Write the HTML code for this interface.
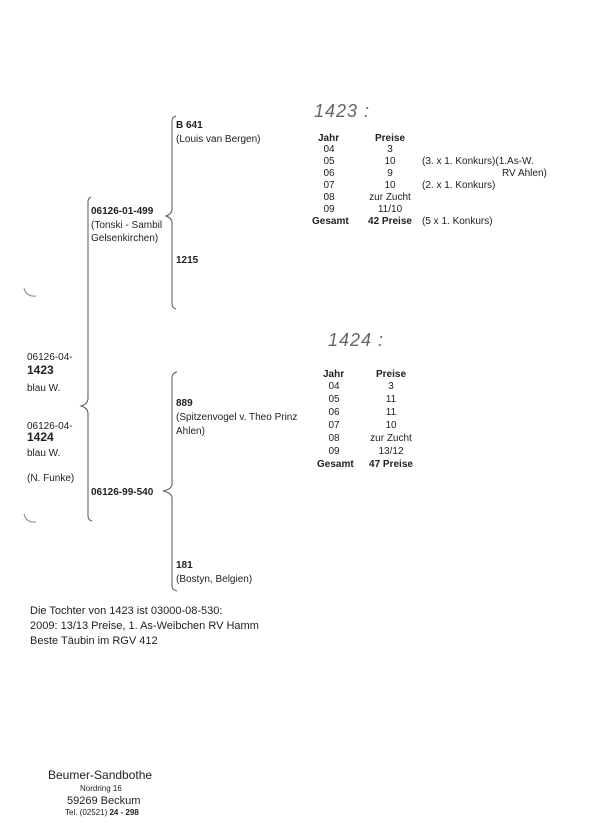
<!DOCTYPE html>
<html><head><meta charset="utf-8"><style>
html,body{margin:0;padding:0;background:#fff;width:600px;height:825px;overflow:hidden}
svg{display:block}
text{font-family:"Liberation Sans",Arial,sans-serif;fill:#222;font-size:10px}
.b{font-weight:bold}
.h{font-family:"Liberation Sans",sans-serif;font-style:italic;font-size:18px;fill:#666;font-weight:normal;letter-spacing:1px}
</style></head><body>
<svg width="600" height="825" viewBox="0 0 600 825">
<g fill="none" stroke="#555" stroke-width="1">
<path d="M91,197 Q88,198 88,202 L88,398 Q88,404 81,406 Q88,408 88,414 L88,516 Q88,520 92,521"/>
<path d="M176,116 Q172,117 172,121 L172,209 Q172,214 166,216 Q172,218 172,223 L172,304 Q172,308 176,309"/>
<path d="M177,372 Q172,373 172,378 L172,484 Q172,489 163,491 Q172,493 172,498 L172,586 Q172,590 177,591"/>
<path d="M24,288 Q26,297 36,296" stroke="#888"/>
<path d="M24,514 Q26,523 36,522" stroke="#888"/>
</g>
<text x="176" y="128" class="b">B 641</text>
<text x="176" y="142">(Louis van Bergen)</text>
<text x="91" y="214" class="b">06126-01-499</text>
<text x="91" y="228">(Tonski - Sambil</text>
<text x="91" y="241">Gelsenkirchen)</text>
<text x="176" y="263" class="b">1215</text>
<text x="27" y="360">06126-04-</text>
<text x="27" y="374" class="b" style="font-size:12px">1423</text>
<text x="27" y="391">blau W.</text>
<text x="27" y="429">06126-04-</text>
<text x="27" y="441" class="b" style="font-size:12px">1424</text>
<text x="27" y="456">blau W.</text>
<text x="27" y="481">(N. Funke)</text>
<text x="91" y="495" class="b">06126-99-540</text>
<text x="176" y="406" class="b">889</text>
<text x="176" y="420">(Spitzenvogel v. Theo Prinz</text>
<text x="176" y="434">Ahlen)</text>
<text x="176" y="568" class="b">181</text>
<text x="176" y="582">(Bostyn, Belgien)</text>

<text x="314" y="117" class="h">1423 :</text>
<g>
<text x="318" y="141" class="b">Jahr</text><text x="390" y="141" class="b" text-anchor="middle">Preise</text>
<text x="329" y="152" text-anchor="middle">04</text><text x="390" y="152" text-anchor="middle">3</text>
<text x="329" y="164" text-anchor="middle">05</text><text x="390" y="164" text-anchor="middle">10</text><text x="422" y="164">(3. x 1. Konkurs)(1.As-W.</text>
<text x="329" y="176" text-anchor="middle">06</text><text x="390" y="176" text-anchor="middle">9</text><text x="502" y="176">RV Ahlen)</text>
<text x="329" y="188" text-anchor="middle">07</text><text x="390" y="188" text-anchor="middle">10</text><text x="422" y="188">(2. x 1. Konkurs)</text>
<text x="329" y="200" text-anchor="middle">08</text><text x="390" y="200" text-anchor="middle">zur Zucht</text>
<text x="329" y="212" text-anchor="middle">09</text><text x="390" y="212" text-anchor="middle">11/10</text>
<text x="312" y="224" class="b">Gesamt</text><text x="390" y="224" class="b" text-anchor="middle">42 Preise</text><text x="422" y="224">(5 x 1. Konkurs)</text>
</g>

<text x="328" y="346" class="h">1424 :</text>
<g>
<text x="323" y="377" class="b">Jahr</text><text x="391" y="377" class="b" text-anchor="middle">Preise</text>
<text x="334" y="389" text-anchor="middle">04</text><text x="391" y="389" text-anchor="middle">3</text>
<text x="334" y="402" text-anchor="middle">05</text><text x="391" y="402" text-anchor="middle">11</text>
<text x="334" y="415" text-anchor="middle">06</text><text x="391" y="415" text-anchor="middle">11</text>
<text x="334" y="428" text-anchor="middle">07</text><text x="391" y="428" text-anchor="middle">10</text>
<text x="334" y="441" text-anchor="middle">08</text><text x="391" y="441" text-anchor="middle">zur Zucht</text>
<text x="334" y="454" text-anchor="middle">09</text><text x="391" y="454" text-anchor="middle">13/12</text>
<text x="317" y="467" class="b">Gesamt</text><text x="391" y="467" class="b" text-anchor="middle">47 Preise</text>
</g>

<text x="30" y="614" style="font-size:11px">Die Tochter von 1423 ist 03000-08-530:</text>
<text x="30" y="629" style="font-size:11px">2009: 13/13 Preise, 1. As-Weibchen RV Hamm</text>
<text x="30" y="644" style="font-size:11px">Beste Täubin im RGV 412</text>

<text x="48" y="779" style="font-size:12px">Beumer-Sandbothe</text>
<text x="80" y="791" style="font-size:8px">Nordring 16</text>
<text x="67" y="804" style="font-size:11px">59269 Beckum</text>
<text x="65" y="815" style="font-size:8px">Tel. (02521) <tspan font-weight="bold">24 - 298</tspan></text>
</svg>
</body></html>
